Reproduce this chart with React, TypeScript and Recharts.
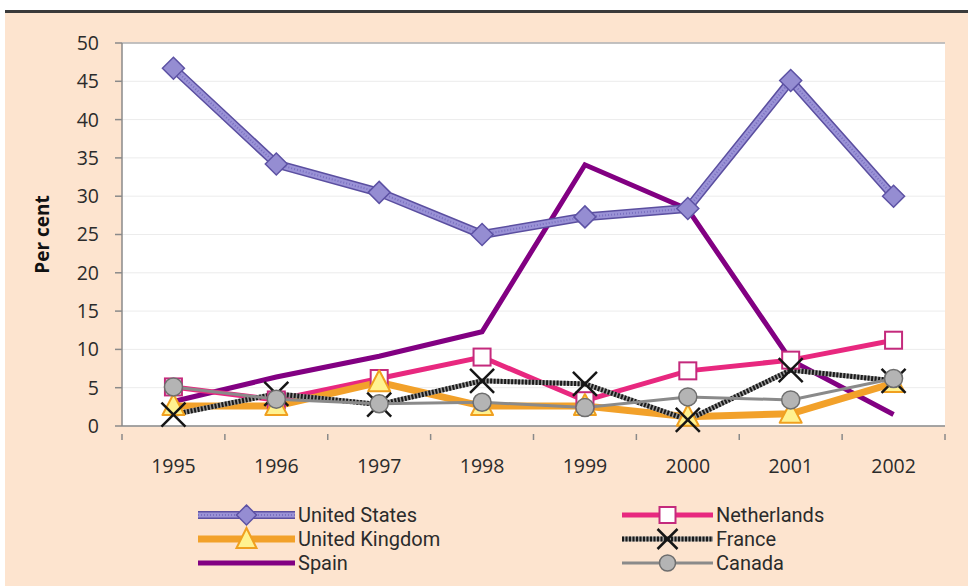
import React from 'react';
import { LineChart, Line, XAxis, YAxis, CartesianGrid, ReferenceLine, Label } from 'recharts';

const years = ['1995', '1996', '1997', '1998', '1999', '2000', '2001', '2002'];
const unitedStates = [46.7, 34.2, 30.5, 25.0, 27.3, 28.4, 45.1, 30.0];
const netherlands = [5.1, 3.4, 6.2, 9.0, 3.3, 7.2, 8.6, 11.2];
const unitedKingdom = [2.6, 2.6, 5.7, 2.6, 2.6, 1.2, 1.6, 5.6];
const france = [1.5, 4.2, 2.8, 5.9, 5.5, 0.8, 7.3, 5.9];
const spain = [3.2, 6.4, 9.1, 12.3, 34.1, 28.3, 8.6, 1.5];
const canada = [5.1, 3.5, 2.9, 3.1, 2.4, 3.8, 3.4, 6.2];
const yTicks = [0, 5, 10, 15, 20, 25, 30, 35, 40, 45, 50];

const data = years.map((year, i) => ({
  year,
  us: unitedStates[i],
  nl: netherlands[i],
  uk: unitedKingdom[i],
  fr: france[i],
  es: spain[i],
  ca: canada[i],
}));

const FONT = '"Open Sans", "Noto Sans", sans-serif';
const LEG_FONT = 'Roboto, "Open Sans", sans-serif';
const W = 968;
const H = 586;
const M = { top: 43, right: 23, left: 0, bottom: 120 };
const Y_W = 122;
const PLOT_W = W - M.right - Y_W;
const HALF_STEP = PLOT_W / years.length / 2;

const diamond = (p: any) => {
  const { cx, cy, index } = p;
  if (cx == null || cy == null) return <g key={`d${index}`} />;
  const r = 11;
  return (
    <path
      key={`d${index}`}
      d={`M${cx},${cy - r} L${cx + r},${cy} L${cx},${cy + r} L${cx - r},${cy} Z`}
      fill="#958dd2"
      stroke="#5d52a4"
      strokeWidth={1.5}
    />
  );
};

const square = (p: any) => {
  const { cx, cy, index } = p;
  if (cx == null || cy == null) return <g key={`s${index}`} />;
  const r = 8.5;
  return (
    <rect key={`s${index}`} x={cx - r} y={cy - r} width={2 * r} height={2 * r} fill="#ffffff" stroke="#c42a7c" strokeWidth={2} />
  );
};

const triangle = (p: any) => {
  const { cx, cy, index } = p;
  if (cx == null || cy == null) return <g key={`t${index}`} />;
  return (
    <path
      key={`t${index}`}
      d={`M${cx},${cy - 12} L${cx + 11},${cy + 9} L${cx - 11},${cy + 9} Z`}
      fill="#fff290"
      stroke="#f0a020"
      strokeWidth={2}
      strokeLinejoin="round"
    />
  );
};

const cross = (p: any) => {
  const { cx, cy, index } = p;
  if (cx == null || cy == null) return <g key={`x${index}`} />;
  const r = 12;
  return (
    <g key={`x${index}`} stroke="#151515" strokeWidth={2.5}>
      <line x1={cx - r} y1={cy - r} x2={cx + r} y2={cy + r} />
      <line x1={cx - r} y1={cy + r} x2={cx + r} y2={cy - r} />
    </g>
  );
};

const circle = (p: any) => {
  const { cx, cy, index } = p;
  if (cx == null || cy == null) return <g key={`c${index}`} />;
  return <circle key={`c${index}`} cx={cx} cy={cy} r={9} fill="#b4b4b4" stroke="#6e6e6e" strokeWidth={1.5} />;
};

const XTick = (props: any) => {
  const { x, y, payload, index } = props;
  const last = index === years.length - 1;
  return (
    <g>
      <line x1={x - HALF_STEP} y1={y} x2={x - HALF_STEP} y2={y + 6} stroke="#8a8a8a" strokeWidth={1.5} />
      {last && <line x1={x + HALF_STEP} y1={y} x2={x + HALF_STEP} y2={y + 6} stroke="#8a8a8a" strokeWidth={1.5} />}
      <text x={x} y={y + 39} textAnchor="middle" fontFamily={FONT} fontSize={19.5} fill="#2b2b2b">
        {payload.value}
      </text>
    </g>
  );
};

const legendLeft = [
  { key: 'us', label: 'United States' },
  { key: 'uk', label: 'United Kingdom' },
  { key: 'es', label: 'Spain' },
];
const legendRight = [
  { key: 'nl', label: 'Netherlands' },
  { key: 'fr', label: 'France' },
  { key: 'ca', label: 'Canada' },
];

const LegendIcon = ({ k, w }: { k: string; w: number }) => {
  const c = w / 2;
  const y = 11;
  let body: any = null;
  if (k === 'us') {
    body = (
      <g>
        <line x1={0} y1={y} x2={w} y2={y} stroke="#5b4fa0" strokeWidth={8} />
        <line x1={0} y1={y} x2={w} y2={y} stroke="#9a92d6" strokeWidth={5} />
        <line x1={0} y1={y} x2={w} y2={y} stroke="#7a70c0" strokeWidth={2} strokeDasharray="1 2" />
        <path d={`M${c},${y - 10} L${c + 10},${y} L${c},${y + 10} L${c - 10},${y} Z`} fill="#958dd2" stroke="#5d52a4" strokeWidth={1.5} />
      </g>
    );
  } else if (k === 'uk') {
    body = (
      <g>
        <line x1={0} y1={y} x2={w} y2={y} stroke="#f2a12a" strokeWidth={7} />
        <path d={`M${c},${y - 11} L${c + 10},${y + 9} L${c - 10},${y + 9} Z`} fill="#fff290" stroke="#f0a020" strokeWidth={2} />
      </g>
    );
  } else if (k === 'es') {
    body = <line x1={0} y1={y} x2={w} y2={y} stroke="#820082" strokeWidth={5} />;
  } else if (k === 'nl') {
    body = (
      <g>
        <line x1={0} y1={y} x2={w} y2={y} stroke="#e8287f" strokeWidth={5} />
        <rect x={c - 8} y={y - 8} width={16} height={16} fill="#fff" stroke="#c42a7c" strokeWidth={2} />
      </g>
    );
  } else if (k === 'fr') {
    body = (
      <g>
        <line x1={0} y1={y} x2={w} y2={y} stroke="#9a9a9a" strokeWidth={5} />
        <line x1={0} y1={y} x2={w} y2={y} stroke="#1a1a1a" strokeWidth={5} strokeDasharray="2 1.5" />
        <line x1={c - 10} y1={y - 10} x2={c + 10} y2={y + 10} stroke="#151515" strokeWidth={2.5} />
        <line x1={c - 10} y1={y + 10} x2={c + 10} y2={y - 10} stroke="#151515" strokeWidth={2.5} />
      </g>
    );
  } else {
    body = (
      <g>
        <line x1={0} y1={y} x2={w} y2={y} stroke="#8a8a8a" strokeWidth={3} />
        <circle cx={c} cy={y} r={8} fill="#b4b4b4" stroke="#6e6e6e" strokeWidth={1.5} />
      </g>
    );
  }
  return (
    <svg width={w} height={22} style={{ display: 'block', overflow: 'visible' }}>
      {body}
    </svg>
  );
};

const LegendColumn = ({ items, left, iconW }: { items: any[]; left: number; iconW: number }) => (
  <div style={{ position: 'absolute', left, top: 503 }}>
    {items.map((it) => (
      <div key={it.key} style={{ display: 'flex', alignItems: 'center', height: 24 }}>
        <LegendIcon k={it.key} w={iconW} />
        <span style={{ marginLeft: 3, fontFamily: LEG_FONT, fontSize: 20, color: '#2b2b2b', lineHeight: '24px', whiteSpace: 'nowrap' }}>
          {it.label}
        </span>
      </div>
    ))}
  </div>
);

export default function App() {
  return (
    <div style={{ position: 'absolute', left: 0, top: 0, width: W, height: H, background: '#ffffff', overflow: 'hidden' }}>
      <div style={{ position: 'absolute', left: 5, top: 13, width: W - 5, height: H - 13, background: '#fde4cf' }} />
      <div style={{ position: 'absolute', left: 5, top: 10, width: W - 5, height: 3, background: '#3a3a3a' }} />
      <div style={{ position: 'absolute', left: 0, top: 0 }}>
        <LineChart width={W} height={H} data={data} margin={M}>
          <CartesianGrid horizontal vertical={false} stroke="#ececec" fill="#ffffff" />
          <XAxis
            dataKey="year"
            height={40}
            padding={{ left: HALF_STEP, right: HALF_STEP }}
            axisLine={{ stroke: '#8a8a8a', strokeWidth: 1.5 }}
            tickLine={false}
            tick={<XTick />}
            interval={0}
          />
          <YAxis
            width={Y_W}
            domain={[0, 50]}
            ticks={yTicks}
            interval={0}
            axisLine={{ stroke: '#8a8a8a', strokeWidth: 1.5 }}
            tickLine={{ stroke: '#8a8a8a', strokeWidth: 1.5 }}
            tickSize={7}
            tickMargin={16}
            tick={{ fontFamily: FONT, fontSize: 19.5, fill: '#2b2b2b' }}
          >
            <Label
              value="Per cent"
              angle={-90}
              position="insideLeft"
              offset={42}
              style={{ fontFamily: FONT, fontSize: 19, fontWeight: 700, fill: '#111', textAnchor: 'middle' }}
            />
          </YAxis>
          <YAxis yAxisId="right" orientation="right" width={0} tick={false} tickLine={false} axisLine={{ stroke: '#b0b0b0', strokeWidth: 1.5 }} />
          <ReferenceLine y={50} stroke="#b0b0b0" strokeWidth={1.5} />

          <Line dataKey="es" stroke="#820082" strokeWidth={5} dot={false} isAnimationActive={false} strokeLinejoin="miter" />
          <Line dataKey="nl" stroke="#e8287f" strokeWidth={5} dot={square} isAnimationActive={false} />
          <Line dataKey="uk" stroke="#f2a12a" strokeWidth={7} dot={triangle} isAnimationActive={false} />
          <Line dataKey="fr" stroke="#9a9a9a" strokeWidth={5} dot={false} isAnimationActive={false} />
          <Line dataKey="fr" stroke="#1a1a1a" strokeWidth={5} strokeDasharray="2 1.5" dot={cross} isAnimationActive={false} />
          <Line dataKey="ca" stroke="#8a8a8a" strokeWidth={3} dot={circle} isAnimationActive={false} />
          <Line dataKey="us" stroke="#5b4fa0" strokeWidth={9} dot={false} isAnimationActive={false} />
          <Line dataKey="us" stroke="#9a92d6" strokeWidth={6} dot={false} isAnimationActive={false} />
          <Line dataKey="us" stroke="#7a70c0" strokeWidth={2} strokeDasharray="1 2" dot={diamond} isAnimationActive={false} />
        </LineChart>
      </div>
      <LegendColumn items={legendLeft} left={198} iconW={97} />
      <LegendColumn items={legendRight} left={622} iconW={91} />
    </div>
  );
}
